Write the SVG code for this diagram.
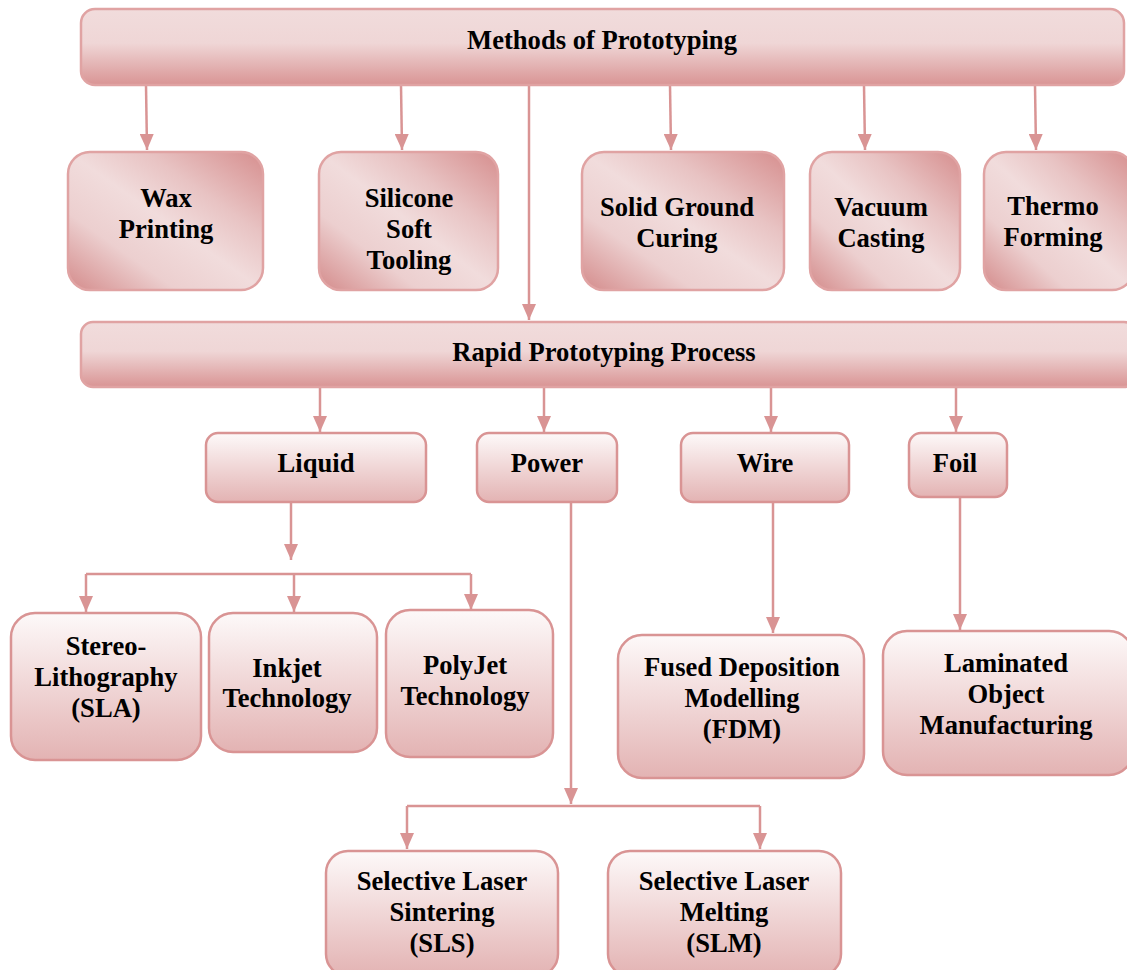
<svg xmlns="http://www.w3.org/2000/svg" width="1127" height="970" viewBox="0 0 1127 970">
<defs>
<linearGradient id="gDiag" x1="1" y1="0" x2="0" y2="1">
<stop offset="0" stop-color="#d68e8e"/>
<stop offset="0.3" stop-color="#e8c3c3"/>
<stop offset="0.5" stop-color="#f1dcdc"/>
<stop offset="0.72" stop-color="#eccfcf"/>
<stop offset="1" stop-color="#d48b8b"/>
</linearGradient>
<linearGradient id="gBar" x1="0" y1="0" x2="0" y2="1">
<stop offset="0" stop-color="#f1dcdc"/>
<stop offset="0.45" stop-color="#efd6d6"/>
<stop offset="1" stop-color="#d99494"/>
</linearGradient>
<linearGradient id="gVert" x1="0" y1="0" x2="0" y2="1">
<stop offset="0" stop-color="#fdf9f9"/>
<stop offset="1" stop-color="#e3b3b3"/>
</linearGradient>
<marker id="ah" viewBox="0 0 16 14" refX="16" refY="7" markerWidth="16" markerHeight="14" markerUnits="userSpaceOnUse" orient="auto">
<path d="M0,0 L16,7 L0,14 Z" fill="#d99494"/>
</marker>
</defs>
<style>
.bar{fill:url(#gBar);stroke:#e0a3a3;stroke-width:2.5}
.d{fill:url(#gDiag);stroke:#e0a3a3;stroke-width:2.5}
.v{fill:url(#gVert);stroke:#d99494;stroke-width:2.5}
text{font-family:"Liberation Serif","Times New Roman",serif;font-weight:bold;font-size:26.6px;fill:#000;text-anchor:middle}
.c{fill:none;stroke:#d99494;stroke-width:2.5}
</style>
<g id="connectors">
<path class="c" d="M146,85 L147,150" marker-end="url(#ah)"/>
<path class="c" d="M401,85 L402,150" marker-end="url(#ah)"/>
<path class="c" d="M670,85 L671,150" marker-end="url(#ah)"/>
<path class="c" d="M864,85 L865,150" marker-end="url(#ah)"/>
<path class="c" d="M1035,85 L1036,150" marker-end="url(#ah)"/>
<path class="c" d="M529,85 V320" marker-end="url(#ah)"/>
<path class="c" d="M320,387 V432" marker-end="url(#ah)"/>
<path class="c" d="M544,387 V432" marker-end="url(#ah)"/>
<path class="c" d="M771,387 V432" marker-end="url(#ah)"/>
<path class="c" d="M956,387 V432" marker-end="url(#ah)"/>
<path class="c" d="M291,503 V560" marker-end="url(#ah)"/>
<path class="c" d="M86,574 H471"/>
<path class="c" d="M86,574 V612" marker-end="url(#ah)"/>
<path class="c" d="M294,574 V612" marker-end="url(#ah)"/>
<path class="c" d="M471,574 V610" marker-end="url(#ah)"/>
<path class="c" d="M571,503 V804" marker-end="url(#ah)"/>
<path class="c" d="M407,806 H760"/>
<path class="c" d="M407,806 V849" marker-end="url(#ah)"/>
<path class="c" d="M760,806 V849" marker-end="url(#ah)"/>
<path class="c" d="M773,503 V633" marker-end="url(#ah)"/>
<path class="c" d="M960,497 V630" marker-end="url(#ah)"/>
</g>
<g id="methods">
<rect class="bar" x="81" y="9" width="1043" height="76" rx="14"/>
<text x="602" y="49">Methods of Prototyping</text>
</g>
<g id="wax">
<rect class="d" x="68" y="152" width="195" height="138" rx="22"/>
<text x="166" y="207">Wax</text><text x="166" y="238">Printing</text>
</g>
<g id="silicone">
<rect class="d" x="319" y="152" width="179" height="138" rx="22"/>
<text x="409" y="207">Silicone</text><text x="409" y="238">Soft</text><text x="409" y="269">Tooling</text>
</g>
<g id="solid">
<rect class="d" x="582" y="152" width="202" height="138" rx="22"/>
<text x="677" y="216">Solid Ground</text><text x="677" y="247">Curing</text>
</g>
<g id="vacuum">
<rect class="d" x="810" y="152" width="150" height="138" rx="22"/>
<text x="881" y="216">Vacuum</text><text x="881" y="247">Casting</text>
</g>
<g id="thermo">
<rect class="d" x="984" y="152" width="150" height="138" rx="22"/>
<text x="1053" y="215">Thermo</text><text x="1053" y="246">Forming</text>
</g>
<g id="rapid">
<rect class="bar" x="81" y="322" width="1055" height="65" rx="12"/>
<text x="604" y="361">Rapid Prototyping Process</text>
</g>
<g id="liquid">
<rect class="v" x="206" y="433" width="220" height="69" rx="12"/>
<text x="316" y="472">Liquid</text>
</g>
<g id="power">
<rect class="v" x="477" y="433" width="140" height="69" rx="12"/>
<text x="547" y="472">Power</text>
</g>
<g id="wire">
<rect class="v" x="681" y="433" width="168" height="69" rx="12"/>
<text x="765" y="472">Wire</text>
</g>
<g id="foil">
<rect class="v" x="909" y="433" width="98" height="64" rx="12"/>
<text x="955" y="472">Foil</text>
</g>
<g id="sla">
<rect class="v" x="11" y="613" width="190" height="147" rx="24"/>
<text x="106" y="655">Stereo-</text><text x="106" y="686">Lithography</text><text x="106" y="717">(SLA)</text>
</g>
<g id="inkjet">
<rect class="v" x="209" y="613" width="168" height="139" rx="24"/>
<text x="287" y="677">Inkjet</text><text x="287" y="707">Technology</text>
</g>
<g id="polyjet">
<rect class="v" x="386" y="610" width="167" height="147" rx="24"/>
<text x="465" y="674">PolyJet</text><text x="465" y="705">Technology</text>
</g>
<g id="fdm">
<rect class="v" x="618" y="635" width="246" height="143" rx="24"/>
<text x="742" y="676">Fused Deposition</text><text x="742" y="707">Modelling</text><text x="742" y="738">(FDM)</text>
</g>
<g id="lom">
<rect class="v" x="883" y="631" width="250" height="144" rx="24"/>
<text x="1006" y="672">Laminated</text><text x="1006" y="703">Object</text><text x="1006" y="734">Manufacturing</text>
</g>
<g id="sls">
<rect class="v" x="326" y="851" width="232" height="125" rx="22"/>
<text x="442" y="890">Selective Laser</text><text x="442" y="921">Sintering</text><text x="442" y="952">(SLS)</text>
</g>
<g id="slm">
<rect class="v" x="608" y="851" width="233" height="125" rx="22"/>
<text x="724" y="890">Selective Laser</text><text x="724" y="921">Melting</text><text x="724" y="952">(SLM)</text>
</g>
</svg>
